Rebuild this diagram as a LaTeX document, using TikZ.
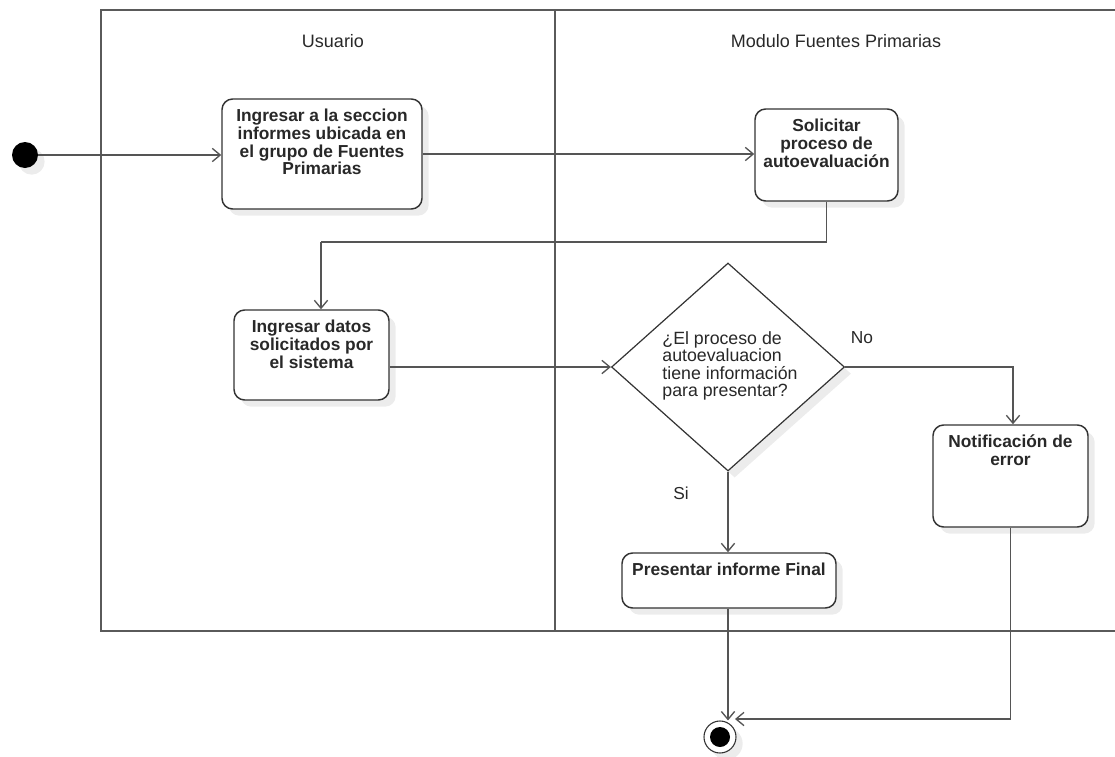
\documentclass[tikz,border=0pt]{standalone}
\usepackage{fontspec}
\setmainfont{Liberation Sans}
\usetikzlibrary{arrows.meta,shapes.geometric,shadows,calc}
\definecolor{boxcol}{RGB}{51,51,51}
\definecolor{linecol}{RGB}{85,85,85}
\definecolor{lanecol}{RGB}{90,90,90}
\definecolor{txtcol}{RGB}{40,40,40}
\definecolor{shadowcol}{RGB}{236,236,236}
\tikzset{
  shd/.style={drop shadow={shadow xshift=5pt,shadow yshift=-5pt,fill=shadowcol,opacity=1}},
  lanebox/.style={draw=lanecol,line width=1.5pt,inner sep=0pt},
  lanetitle/.style={font=\fontsize{13.5}{15}\selectfont,text=txtcol,inner sep=0pt},
  act/.style={draw=boxcol,line width=1.1pt,rounded corners=8pt,fill=white,shd,inner sep=0pt},
  acttxt/.style={font=\bfseries\fontsize{13}{13.3}\selectfont,align=center,text=txtcol,inner sep=0pt,anchor=north,yshift=-7.9pt},
  dec/.style={diamond,draw=boxcol,line width=0.9pt,fill=white,shd,inner sep=0pt},
  dectxt/.style={font=\fontsize{13.3}{13}\selectfont,align=left,text=txtcol,inner sep=0pt},
  flow/.style={draw=linecol,line width=1.1pt,-{Straight Barb[length=6pt,width=10pt,line width=1pt]}},
  plain/.style={draw=linecol,line width=1.1pt},
  guard/.style={font=\fontsize{13}{14}\selectfont,text=txtcol,inner sep=0pt},
  startnode/.style={circle,fill=black,minimum size=19.5pt,inner sep=0pt,shd},
  endring/.style={circle,draw=boxcol,line width=0.8pt,fill=white,minimum size=24pt,inner sep=0pt,shd},
  enddot/.style={circle,fill=black,minimum size=15pt,inner sep=0pt},
}
\begin{document}
\begin{tikzpicture}[x=0.75pt,y=-0.75pt]
\useasboundingbox (0,0) rectangle (1115,757);
\begin{scope}
\clip (0,0) rectangle (1115,757);
% swimlanes
\node[lanebox,minimum width=454*0.75pt,minimum height=621*0.75pt] (laneU) at (328,320.5) {};
\node[lanebox,minimum width=580*0.75pt,minimum height=621*0.75pt] (laneM) at (845,320.5) {};
\end{scope}
\node[lanetitle] (tU) at (333,41) {Usuario};
\node[lanetitle] (tM) at (836,41) {Modulo Fuentes Primarias};

% start
\node[startnode] (st) at (25,155) {};

% activities
\node[act,minimum width=200*0.75pt,minimum height=110*0.75pt] (b1) at (322,154) {};
\node[acttxt] (b1t) at (b1.north) {Ingresar a la seccion\\informes ubicada en\\el grupo de Fuentes\\Primarias};

\node[act,minimum width=143*0.75pt,minimum height=92*0.75pt] (b2) at (826.5,155) {};
\node[acttxt] (b2t) at (b2.north) {Solicitar\\proceso de\\autoevaluación};

\node[act,minimum width=155*0.75pt,minimum height=90*0.75pt] (b3) at (311.5,355) {};
\node[acttxt] (b3t) at (b3.north) {Ingresar datos\\solicitados por\\el sistema};

\node[dec,minimum width=233*0.75pt,minimum height=208*0.75pt] (d) at (728,367) {};
\node[dectxt] (dt) at (730,366) {¿El proceso de\\autoevaluacion\\tiene información\\para presentar?};

\node[act,minimum width=214*0.75pt,minimum height=55*0.75pt] (b4) at (729,580.5) {};
\node[acttxt] (b4t) at (b4.north) {Presentar informe Final};

\node[act,minimum width=155*0.75pt,minimum height=102*0.75pt] (b5) at (1010.5,476) {};
\node[acttxt] (b5t) at (b5.north) {Notificación de\\error};

% end
\node[endring] (en) at (720,737) {};
\node[enddot] (end) at (en.center) {};

% guards
\node[guard] (gNo) at (862,338) {No};
\node[guard] (gSi) at (681,493) {Si};

% connectors
\coordinate (k1) at (321,242);
\coordinate (k2) at (735,719);
\draw[flow] (st.east) -- (st.east -| b1.west);
\draw[flow] (b1.east) -- (b1.east -| b2.west);
\draw[plain] (b2.south) |- (k1);
\draw[flow] (k1) -- (k1 |- b3.north);
\draw[flow] (b3.east |- d.west) -- (d.west);
\draw[flow] (d.east) -| ($(b5.north)+(2.5,0)$);
\draw[flow] (d.south) -- (d.south |- b4.north);
\draw[flow] (d.south |- b4.south) -- (d.south |- en.north);
\draw[flow] (b5.south) |- (k2);
\end{tikzpicture}
\end{document}
